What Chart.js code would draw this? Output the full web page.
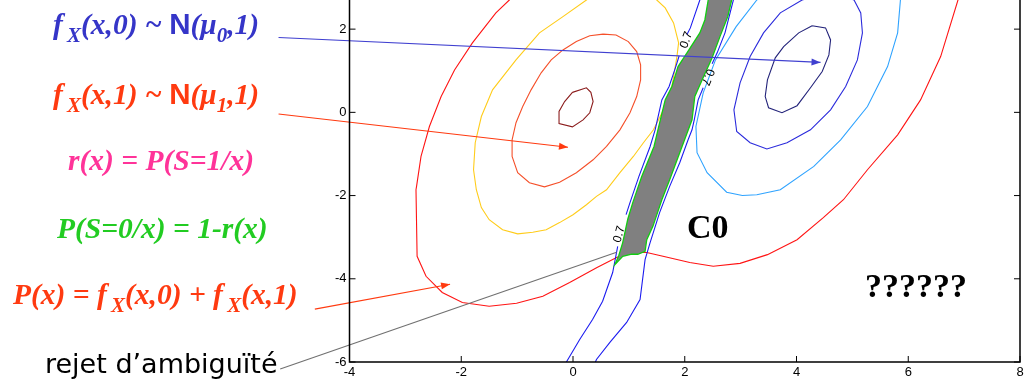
<!DOCTYPE html>
<html>
<head>
<meta charset="utf-8">
<script src="https://cdn.jsdelivr.net/npm/chart.js@4.4.1/dist/chart.umd.min.js"></script>
<style>
  html, body { margin: 0; padding: 0; background: #fff; overflow: hidden; }
  #wrap { position: relative; width: 1034px; height: 390px; }
  #chart { position: absolute; left: 0; top: 0; }
  .f { position: absolute; white-space: nowrap; font: italic bold 29.5px 'Liberation Serif', 'Times New Roman', serif; line-height: 1; }
  .f .s { font-size: 21px; position: relative; top: 8px; }
  .f .n { font-family: 'Liberation Sans', Arial, sans-serif; font-style: normal; font-weight: 900; }
  .rej { position: absolute; white-space: nowrap; font: 27px 'Comic Sans MS', 'DejaVu Sans', sans-serif; line-height: 1; color: #000; }
  .big { position: absolute; white-space: nowrap; font: bold 34px 'Liberation Serif', 'Times New Roman', serif; line-height: 1; color: #000; }
</style>
</head>
<body>
<div id="wrap">
  <canvas id="chart" width="1034" height="390"></canvas>
  <div class="f" style="left:53px;top:9px;color:#3535c8">f<span class="s">&thinsp;X</span>(x,0) ~ <span class="n">N</span>(μ<span class="s">0</span>,1)</div>
  <div class="f" style="left:53px;top:79px;color:#ff3a10">f<span class="s">&thinsp;X</span>(x,1) ~ <span class="n">N</span>(μ<span class="s">1</span>,1)</div>
  <div class="f" style="left:68px;top:146px;color:#ff3399">r(x) = P(S=1/x)</div>
  <div class="f" style="left:57px;top:214px;color:#22cc22">P(S=0/x) = 1-r(x)</div>
  <div class="f" style="left:13px;top:280px;color:#ff3a10">P(x) = f<span class="s">&thinsp;X</span>(x,0) + f<span class="s">&thinsp;X</span>(x,1)</div>
  <div class="rej" style="left:45px;top:350px">rejet d’ambiguïté</div>
  <div class="big" style="left:687px;top:210px">C0</div>
  <div class="big" style="left:865px;top:269px">??????</div>
</div>
<script>
// axis ticks
const X_TICKS = [-4, -2, 0, 2, 4, 6, 8];
const Y_TICKS = [-6, -4, -2, 0, 2];
const Y_TOP = 2.7; // plot is cut at the top of the picture

// contours of f_X(x,1) (class 1, centred near 0,0)
const C1_INNER = [[-0.01,0.48],[0.24,0.59],[0.32,0.48],[0.36,0.26],[0.30,-0.01],[0.18,-0.18],[-0.01,-0.35],[-0.25,-0.27],[-0.25,0.02],[-0.15,0.26],[-0.01,0.48]];
const C1_MID = [[0.54,1.88],[0.77,1.86],[0.99,1.70],[1.14,1.46],[1.21,1.14],[1.21,0.78],[1.14,0.38],[1.02,-0.01],[0.84,-0.42],[0.60,-0.82],[0.36,-1.14],[0.06,-1.45],[-0.24,-1.68],[-0.51,-1.79],[-0.78,-1.69],[-0.99,-1.45],[-1.09,-1.06],[-1.09,-0.66],[-1.02,-0.25],[-0.90,0.14],[-0.75,0.54],[-0.57,0.95],[-0.39,1.26],[-0.18,1.50],[0.06,1.70],[0.30,1.84],[0.54,1.88]];
const C1_OUTER = [[0.50,2.95],[0.24,2.70],[-0.18,2.30],[-0.60,1.91],[-1.02,1.26],[-1.44,0.54],[-1.64,-0.10],[-1.75,-0.73],[-1.78,-1.38],[-1.73,-1.86],[-1.64,-2.29],[-1.50,-2.58],[-1.26,-2.82],[-0.99,-2.92],[-0.72,-2.88],[-0.48,-2.82],[-0.24,-2.65],[0.00,-2.46],[0.24,-2.22],[0.42,-2.02],[0.60,-1.86],[0.84,-1.45],[1.08,-1.06],[1.26,-0.73],[1.44,-0.42],[1.56,-0.10],[1.62,0.06],[1.77,0.62],[1.86,1.34],[1.89,1.67],[1.80,2.15],[1.65,2.51],[1.50,2.70],[1.35,2.90]];

// contours of f_X(x,0) (class 0, centred near 4,1)
const C0_INNER = [[4.28,2.08],[4.52,2.03],[4.61,1.74],[4.58,1.38],[4.46,0.98],[4.25,0.59],[4.01,0.16],[3.74,-0.01],[3.50,0.11],[3.44,0.38],[3.48,0.78],[3.62,1.31],[3.77,1.58],[4.04,1.91],[4.28,2.08]];
const C0_MID = [[4.10,2.70],[3.71,2.39],[3.41,1.91],[3.17,1.34],[2.99,0.71],[2.88,0.06],[2.93,-0.46],[3.17,-0.73],[3.47,-0.88],[3.83,-0.73],[4.25,-0.42],[4.61,0.06],[4.88,0.62],[5.09,1.26],[5.18,1.91],[5.15,2.39],[5.03,2.70],[4.60,2.90],[4.10,2.70]];
const C0_OUTER = [[3.50,3.00],[3.29,2.70],[2.92,2.06],[2.55,1.26],[2.33,0.47],[2.20,-0.34],[2.22,-0.97],[2.40,-1.45],[2.75,-1.92],[3.03,-2.00],[3.29,-1.98],[3.71,-1.86],[4.31,-1.30],[4.79,-0.66],[5.27,0.14],[5.63,1.10],[5.81,1.91],[5.86,2.70],[5.90,3.00]];

// contour of the mixture P(x)
const MIX = [[-0.98,2.90],[-1.14,2.70],[-1.38,2.39],[-1.80,1.67],[-2.12,1.02],[-2.36,0.38],[-2.57,-0.34],[-2.72,-1.06],[-2.80,-1.78],[-2.81,-1.86],[-2.79,-3.46],[-2.63,-3.94],[-2.34,-4.33],[-1.98,-4.57],[-1.50,-4.66],[-1.01,-4.59],[-0.54,-4.42],[-0.06,-4.09],[0.43,-3.73],[0.78,-3.49],[1.02,-3.37],[1.32,-3.37],[1.61,-3.46],[2.09,-3.61],[2.51,-3.70],[2.99,-3.63],[3.48,-3.42],[4.01,-3.06],[4.48,-2.53],[4.84,-2.10],[5.27,-1.38],[5.81,-0.54],[6.22,0.30],[6.58,1.34],[6.89,2.70],[6.95,2.95]];

// ambiguity reject zone
const REJECT = [[2.50,3.00],[2.42,2.70],[2.36,2.22],[2.27,1.91],[2.04,1.43],[1.88,1.10],[1.77,0.62],[1.65,0.30],[1.52,-0.42],[1.45,-0.82],[1.23,-1.54],[1.07,-2.17],[0.98,-2.57],[0.89,-3.13],[0.82,-3.44],[0.75,-3.66],[0.89,-3.46],[1.05,-3.41],[1.16,-3.41],[1.29,-3.34],[1.32,-3.06],[1.43,-2.74],[1.59,-2.10],[1.73,-1.62],[1.91,-0.97],[2.13,-0.18],[2.18,0.38],[2.31,0.78],[2.49,1.31],[2.63,1.82],[2.77,2.30],[2.84,2.70],[2.92,3.00],[2.50,3.00]];

// 0.7 level lines (broken where the labels sit)
const LEV_L1 = [[2.31,2.82],[2.27,2.70],[2.10,2.03],[2.04,1.87]];
const LEV_L2 = [[1.90,1.36],[1.84,1.10],[1.72,0.62],[1.59,0.30],[1.47,-0.42],[1.38,-0.82],[1.18,-1.54],[1.02,-2.17],[0.95,-2.46]];
const LEV_L3 = [[0.80,-3.22],[0.71,-3.85],[0.53,-4.54],[0.35,-4.98],[0.12,-5.46],[-0.11,-5.98],[-0.17,-6.12]];
const LEV_R1 = [[2.90,2.82],[2.87,2.70],[2.72,1.91],[2.58,1.43],[2.49,1.17]];
const LEV_R2 = [[2.33,0.59],[2.24,0.30],[2.17,-0.18],[2.13,-0.42],[2.06,-0.66],[1.91,-1.21],[1.73,-1.78],[1.55,-2.41],[1.38,-3.13],[1.29,-3.54],[1.20,-4.50],[0.96,-5.05],[0.66,-5.53],[0.42,-5.94],[0.37,-6.10]];
const LEV_LABELS = [[2.03,1.74,-70],[2.41,0.85,112],[0.83,-2.93,-74]];

// arrows from the formulas
const ARROW_F0 = [[-5.27,1.80],[4.43,1.20]];
const ARROW_F1 = [[-5.27,-0.04],[-0.09,-0.84]];
const ARROW_P = [[-4.62,-4.73],[-2.20,-4.13]];
const LINE_REJ = [[-5.24,-6.17],[0.78,-3.36]];

const pts = a => a.map(([x, y]) => ({ x, y }));

function line(data, color, order, extra) {
  return Object.assign({
    data: pts(data), borderColor: color, borderWidth: 1.1, showLine: true,
    pointRadius: 0, fill: false, tension: 0, order
  }, extra || {});
}

const datasets = [
  line(ARROW_F0, '#4040d0', 0, { clip: false, arrow: true }),
  line(ARROW_F1, '#ff3a10', 0, { clip: false, arrow: true }),
  line(ARROW_P, '#ff3a10', 0, { clip: false, arrow: true }),
  line(LINE_REJ, '#707070', 0, { clip: false }),
  line(REJECT, '#11cc11', 2, { backgroundColor: '#808080', fill: 'shape', borderWidth: 1.3 }),
  line(LEV_L1, '#1c1cf0', 3), line(LEV_L2, '#1c1cf0', 3), line(LEV_L3, '#1c1cf0', 3),
  line(LEV_R1, '#1c1cf0', 3), line(LEV_R2, '#1c1cf0', 3),
  line(C1_INNER, '#8b1c1c', 5),
  line(C1_MID, '#f5502a', 5),
  line(C1_OUTER, '#ffcc1a', 5),
  line(C0_INNER, '#23237a', 5),
  line(C0_MID, '#2b2bdc', 5),
  line(C0_OUTER, '#2fa3ff', 5),
  line(MIX, '#ff1414', 5),
];

// box, inward ticks, level labels and arrow heads
const frame = {
  id: 'frame',
  afterDatasetsDraw(chart) {
    const { ctx, chartArea: a, scales: { x, y } } = chart;
    ctx.save();
    chart.data.datasets.forEach((ds, i) => {
      if (!ds.arrow) return;
      const el = chart.getDatasetMeta(i).data;
      const p = el[el.length - 1], q = el[el.length - 2];
      ctx.save();
      ctx.translate(p.x, p.y);
      ctx.rotate(Math.atan2(p.y - q.y, p.x - q.x));
      ctx.fillStyle = ds.borderColor;
      ctx.beginPath(); ctx.moveTo(0, 0); ctx.lineTo(-9, -3.5); ctx.lineTo(-9, 3.5); ctx.closePath(); ctx.fill();
      ctx.restore();
    });
    ctx.font = '12px "Liberation Sans", Arial, sans-serif';
    ctx.fillStyle = '#000'; ctx.textAlign = 'center'; ctx.textBaseline = 'middle';
    LEV_LABELS.forEach(([vx, vy, rot]) => {
      ctx.save();
      ctx.translate(x.getPixelForValue(vx), y.getPixelForValue(vy));
      ctx.rotate(rot * Math.PI / 180);
      ctx.fillText('0.7', 0, 0);
      ctx.restore();
    });
    ctx.strokeStyle = '#000'; ctx.lineWidth = 1.5;
    ctx.beginPath();
    ctx.moveTo(a.left, a.top); ctx.lineTo(a.left, a.bottom); ctx.lineTo(a.right, a.bottom); ctx.lineTo(a.right, a.top);
    ctx.stroke();
    ctx.lineWidth = 1;
    ctx.beginPath();
    X_TICKS.forEach(v => { const px = x.getPixelForValue(v); ctx.moveTo(px, a.bottom); ctx.lineTo(px, a.bottom - 6); });
    Y_TICKS.forEach(v => {
      const py = y.getPixelForValue(v);
      ctx.moveTo(a.left, py); ctx.lineTo(a.left + 6, py);
      ctx.moveTo(a.right, py); ctx.lineTo(a.right - 6, py);
    });
    ctx.stroke();
    ctx.restore();
  }
};

const tickFont = { family: 'Liberation Sans', size: 13 };

new Chart(document.getElementById('chart').getContext('2d'), {
  type: 'scatter',
  data: { datasets },
  options: {
    responsive: false, animation: false,
    layout: { padding: { left: 319.5, right: 14, top: 0, bottom: 0 } },
    plugins: { legend: { display: false }, tooltip: { enabled: false } },
    scales: {
      x: {
        type: 'linear', min: -4, max: 8,
        afterBuildTicks: s => { s.ticks = X_TICKS.map(v => ({ value: v })); },
        afterFit: s => { s.height = 28; s.paddingLeft = 0; s.paddingRight = 0; },
        grid: { display: false, drawTicks: false }, border: { display: false },
        ticks: { color: '#000', font: tickFont, padding: 3, maxRotation: 0, autoSkip: false }
      },
      y: {
        type: 'linear', min: -6, max: Y_TOP,
        afterBuildTicks: s => { s.ticks = Y_TICKS.map(v => ({ value: v })); },
        afterFit: s => { s.width = 30; s.paddingTop = 0; s.paddingBottom = 0; },
        grid: { display: false, drawTicks: false }, border: { display: false },
        ticks: { color: '#000', font: tickFont, padding: 3, autoSkip: false }
      }
    }
  },
  plugins: [frame]
});
</script>
</body>
</html>
